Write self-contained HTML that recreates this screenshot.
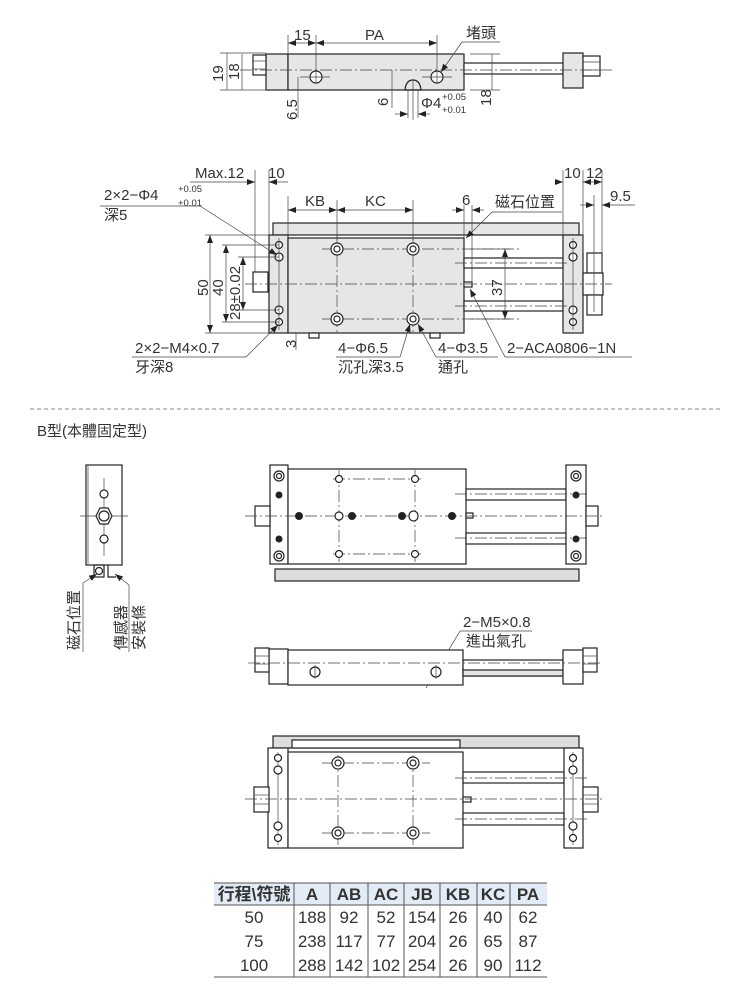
<!DOCTYPE html>
<html><head><meta charset="utf-8"><style>
html,body{margin:0;padding:0;background:#fff;}
svg{display:block;}
text{font-family:"Liberation Sans","Noto Sans CJK TC",sans-serif;fill:#333;font-size:15px;}
.l{stroke:#222;stroke-width:1.2;fill:none;}
.t{stroke:#444;stroke-width:0.7;fill:none;}
.c{stroke:#444;stroke-width:0.7;fill:none;stroke-dasharray:12 3 2 3;}
.w{stroke:#222;stroke-width:1.2;fill:#fff;}
.g{stroke:#222;stroke-width:1.2;fill:#e6e6e6;}
.d{fill:#222;}
</style></head><body>
<svg width="750" height="990" viewBox="0 0 750 990" xmlns="http://www.w3.org/2000/svg">
<defs>
<marker id="a" markerWidth="8" markerHeight="6" refX="8" refY="3" orient="auto-start-reverse" markerUnits="userSpaceOnUse"><path d="M0,0L8,3L0,6z" fill="#222"/></marker>
</defs>

<!-- ============ SECTION 1 ============ -->
<rect class="g" x="266" y="54" width="22" height="36"/>
<rect class="w" x="253" y="55" width="13" height="20"/>
<line class="t" x1="253" y1="61" x2="266" y2="61"/><line class="t" x1="253" y1="69" x2="266" y2="69"/>
<rect class="g" x="288" y="54" width="176" height="36"/>
<rect class="w" x="464" y="63" width="99" height="11"/>
<rect class="g" x="563" y="53" width="20" height="35"/>
<rect class="w" x="583" y="56" width="17" height="20"/>
<line class="t" x1="583" y1="62" x2="600" y2="62"/><line class="t" x1="583" y1="70" x2="600" y2="70"/>
<line class="c" x1="240" y1="70" x2="615" y2="70"/>
<circle class="w" cx="316" cy="77" r="6"/><line class="t" x1="316" y1="71" x2="316" y2="83"/>
<circle class="w" cx="437" cy="77" r="6"/><line class="t" x1="437" y1="71" x2="437" y2="83"/>
<line class="t" x1="300" y1="77" x2="330" y2="77"/><line class="t" x1="422" y1="77" x2="452" y2="77"/>
<path class="l" d="M405,90 Q406,80 413,80 Q420,80 421,90 Z" fill="#ccc"/>
<line class="t" x1="413" y1="80" x2="413" y2="120"/>
<!-- dims sec1 -->
<line class="t" x1="288" y1="35" x2="288" y2="54"/>
<line class="t" x1="316" y1="35" x2="316" y2="70"/>
<line class="t" x1="437" y1="35" x2="437" y2="70"/>
<line class="t" x1="288" y1="43" x2="316" y2="43" marker-start="url(#a)" marker-end="url(#a)"/>
<line class="t" x1="316" y1="43" x2="437" y2="43" marker-start="url(#a)" marker-end="url(#a)"/>
<text x="294" y="40">15</text><text x="365" y="40">PA</text>
<text x="466" y="38">堵頭</text>
<line class="t" x1="462" y1="42" x2="500" y2="42"/>
<line class="t" x1="462" y1="42" x2="441" y2="72" marker-end="url(#a)"/>
<line class="t" x1="220" y1="53" x2="266" y2="53"/><line class="t" x1="220" y1="90" x2="266" y2="90"/>
<line class="t" x1="227" y1="53" x2="227" y2="90"/><line class="t" x1="242" y1="54" x2="242" y2="90"/>
<text transform="translate(223,82) rotate(-90)">19</text>
<text transform="translate(239,80) rotate(-90)">18</text>
<line class="t" x1="298" y1="77" x2="298" y2="118"/>
<text transform="translate(297,120) rotate(-90)">6.5</text>
<line class="t" x1="392" y1="70" x2="392" y2="108"/>
<text transform="translate(388,106) rotate(-90)">6</text>
<line class="t" x1="395" y1="114" x2="408" y2="114" marker-end="url(#a)"/>
<line class="t" x1="418" y1="114" x2="430" y2="114" marker-start="url(#a)"/>
<line class="t" x1="408" y1="90" x2="408" y2="118"/><line class="t" x1="418" y1="90" x2="418" y2="118"/>
<text x="421" y="108">Φ4</text>
<text x="442" y="100" style="font-size:9.5px">+0.05</text>
<text x="442" y="113" style="font-size:9.5px">+0.01</text>
<line class="t" x1="470" y1="54" x2="500" y2="54"/><line class="t" x1="470" y1="90" x2="500" y2="90"/>
<line class="t" x1="492" y1="54" x2="492" y2="90"/>
<text transform="translate(491,106) rotate(-90)">18</text>

<!-- ============ SECTION 2 ============ -->
<rect class="g" x="273" y="223" width="306" height="12"/>
<rect class="g" x="269" y="235" width="19" height="98"/>
<rect class="g" x="288" y="238" width="176" height="95"/>
<rect class="w" x="464" y="258" width="99" height="10"/>
<rect class="w" x="464" y="301" width="99" height="10"/>
<rect class="g" x="563" y="235" width="20" height="98"/>
<rect class="w" x="253" y="272" width="15" height="20"/>
<rect class="w" x="587" y="253" width="15" height="20"/>
<rect class="w" x="583" y="273" width="20" height="22"/>
<rect class="w" x="587" y="295" width="15" height="20"/>
<rect class="w" x="309" y="333" width="10" height="5"/><rect class="w" x="430" y="333" width="10" height="5"/>
<rect class="w" x="464" y="282" width="8" height="5"/>
<line class="c" x1="245" y1="284" x2="612" y2="284"/>
<line class="c" x1="322" y1="249" x2="520" y2="249"/><line class="c" x1="322" y1="319" x2="520" y2="319"/>
<line class="c" x1="337" y1="235" x2="337" y2="333"/><line class="c" x1="413" y1="235" x2="413" y2="333"/>
<line class="c" x1="455" y1="263" x2="570" y2="263"/><line class="c" x1="455" y1="306" x2="570" y2="306"/>
<g class="w"><circle cx="337" cy="249" r="6"/><circle cx="413" cy="249" r="6"/><circle cx="337" cy="319" r="6"/><circle cx="413" cy="319" r="6"/></g>
<g class="l"><circle cx="337" cy="249" r="3"/><circle cx="413" cy="249" r="3"/><circle cx="337" cy="319" r="3"/><circle cx="413" cy="319" r="3"/></g>
<g class="w"><circle cx="279" cy="245" r="3.5"/><circle cx="279" cy="257" r="4"/><circle cx="279" cy="310" r="4"/><circle cx="279" cy="322" r="3.5"/>
<circle cx="573" cy="245" r="3.5"/><circle cx="573" cy="257" r="4"/><circle cx="573" cy="310" r="4"/><circle cx="573" cy="322" r="3.5"/></g>
<line class="t" x1="279" y1="238" x2="279" y2="330"/><line class="t" x1="573" y1="238" x2="573" y2="330"/>
<!-- dims sec2 -->
<line class="t" x1="255" y1="170" x2="255" y2="272"/><line class="t" x1="269" y1="170" x2="269" y2="235"/>
<line class="t" x1="288" y1="196" x2="288" y2="238"/>
<line class="t" x1="190" y1="182" x2="255" y2="182" marker-end="url(#a)"/>
<line class="t" x1="269" y1="182" x2="288" y2="182" marker-start="url(#a)"/>
<text x="195" y="178">Max.12</text><text x="268" y="178">10</text>
<text x="104" y="200">2×2−Φ4</text>
<text x="178" y="192" style="font-size:9.5px">+0.05</text>
<text x="178" y="206" style="font-size:9.5px">+0.01</text>
<text x="104" y="220">深5</text>
<line class="t" x1="100" y1="206" x2="200" y2="206"/>
<line class="t" x1="200" y1="206" x2="277" y2="255" marker-end="url(#a)"/>
<line class="t" x1="337" y1="200" x2="337" y2="240"/><line class="t" x1="413" y1="200" x2="413" y2="240"/>
<line class="t" x1="288" y1="210" x2="337" y2="210" marker-start="url(#a)" marker-end="url(#a)"/>
<line class="t" x1="337" y1="210" x2="413" y2="210" marker-start="url(#a)" marker-end="url(#a)"/>
<text x="305" y="206">KB</text><text x="365" y="206">KC</text>
<line class="t" x1="464" y1="205" x2="464" y2="238"/><line class="t" x1="472" y1="205" x2="472" y2="285"/>
<line class="t" x1="452" y1="210" x2="464" y2="210" marker-end="url(#a)"/>
<line class="t" x1="472" y1="210" x2="484" y2="210" marker-start="url(#a)"/>
<text x="462" y="205">6</text>
<text x="495" y="207">磁石位置</text>
<line class="t" x1="492" y1="212" x2="562" y2="212"/>
<line class="t" x1="492" y1="212" x2="466" y2="238" marker-end="url(#a)"/>
<line class="t" x1="563" y1="170" x2="563" y2="235"/><line class="t" x1="583" y1="170" x2="583" y2="253"/><line class="t" x1="602" y1="170" x2="602" y2="273"/>
<line class="t" x1="555" y1="182" x2="563" y2="182" marker-end="url(#a)"/>
<line class="t" x1="583" y1="182" x2="602" y2="182" marker-start="url(#a)" marker-end="url(#a)"/>
<text x="564" y="178">10</text><text x="586" y="178">12</text>
<line class="t" x1="594" y1="195" x2="594" y2="312"/>
<line class="t" x1="580" y1="205" x2="594" y2="205" marker-end="url(#a)"/>
<line class="t" x1="602" y1="205" x2="635" y2="205" marker-start="url(#a)"/>
<text x="610" y="201">9.5</text>
<line class="t" x1="205" y1="235" x2="269" y2="235"/><line class="t" x1="205" y1="333" x2="269" y2="333"/>
<line class="t" x1="210" y1="235" x2="210" y2="333" marker-start="url(#a)" marker-end="url(#a)"/>
<line class="t" x1="222" y1="245" x2="279" y2="245"/><line class="t" x1="222" y1="322" x2="279" y2="322"/>
<line class="t" x1="226" y1="245" x2="226" y2="322" marker-start="url(#a)" marker-end="url(#a)"/>
<line class="t" x1="238" y1="257" x2="279" y2="257"/><line class="t" x1="238" y1="310" x2="279" y2="310"/>
<line class="t" x1="243" y1="257" x2="243" y2="310" marker-start="url(#a)" marker-end="url(#a)"/>
<text transform="translate(208,296) rotate(-90)">50</text>
<text transform="translate(223,296) rotate(-90)">40</text>
<text transform="translate(240,320) rotate(-90)">28±0.02</text>
<line class="t" x1="470" y1="249" x2="510" y2="249"/><line class="t" x1="470" y1="319" x2="510" y2="319"/>
<line class="t" x1="505" y1="249" x2="505" y2="319" marker-start="url(#a)" marker-end="url(#a)"/>
<text transform="translate(502,296) rotate(-90)">37</text>
<line class="t" x1="296" y1="333" x2="296" y2="350"/>
<text transform="translate(296,348) rotate(-90)">3</text>
<text x="135" y="353">2×2−M4×0.7</text><text x="135" y="372">牙深8</text>
<line class="t" x1="132" y1="357" x2="246" y2="357"/>
<line class="t" x1="246" y1="357" x2="278" y2="325" marker-end="url(#a)"/>
<text x="338" y="353">4−Φ6.5</text><text x="338" y="372">沉孔深3.5</text>
<line class="t" x1="336" y1="357" x2="400" y2="357"/>
<line class="t" x1="400" y1="357" x2="410" y2="324" marker-end="url(#a)"/>
<text x="438" y="353">4−Φ3.5</text><text x="438" y="372">通孔</text>
<line class="t" x1="436" y1="357" x2="498" y2="357"/>
<line class="t" x1="436" y1="357" x2="418" y2="324" marker-end="url(#a)"/>
<text x="507" y="353">2−ACA0806−1N</text>
<line class="t" x1="505" y1="357" x2="632" y2="357"/>
<line class="t" x1="505" y1="357" x2="470" y2="289" marker-end="url(#a)"/>

<!-- divider -->
<line x1="30" y1="409" x2="722" y2="409" stroke="#888" stroke-width="1" stroke-dasharray="4 3"/>
<text x="37" y="436" style="font-size:15px">B型(本體固定型)</text>

<!-- ============ SECTION 3 ============ -->
<rect class="w" x="86" y="465" width="36" height="100"/>
<line class="t" x1="88" y1="466" x2="88" y2="564"/>
<line class="t" x1="80" y1="516" x2="128" y2="516"/>
<line class="t" x1="104" y1="478" x2="104" y2="556"/>
<circle class="w" cx="104" cy="494" r="4"/><circle class="w" cx="104" cy="539" r="4"/>
<polygon class="w" points="96,516 100,508 108,508 112,516 108,524 100,524"/>
<circle class="l" cx="104" cy="516" r="5"/>
<rect class="l" x="94" y="565" width="10" height="12"/><circle class="l" cx="99" cy="571" r="3.5"/>
<path class="l" d="M108,565 V577 H116"/>
<line class="t" x1="83" y1="583" x2="97" y2="574" marker-end="url(#a)"/>
<line class="t" x1="83" y1="583" x2="83" y2="652"/>
<line class="t" x1="129" y1="585" x2="115" y2="574" marker-end="url(#a)"/>
<line class="t" x1="129" y1="585" x2="129" y2="652"/>
<text transform="translate(79,650) rotate(-90)" style="font-size:15px">磁石位置</text>
<text transform="translate(126,650) rotate(-90)" style="font-size:15px">傳感器</text>
<text transform="translate(144,650) rotate(-90)" style="font-size:15px">安裝條</text>

<rect class="g" x="275" y="569" width="304" height="12" style="fill:#ddd"/>
<rect class="w" x="270" y="465" width="18" height="99"/>
<rect class="w" x="288" y="469" width="178" height="95"/>
<rect class="w" x="466" y="489" width="100" height="11"/>
<rect class="w" x="466" y="533" width="100" height="11"/>
<rect class="w" x="566" y="465" width="20" height="99"/>
<rect class="w" x="255" y="506" width="15" height="20"/>
<rect class="w" x="586" y="506" width="12" height="20"/>
<rect class="w" x="466" y="513" width="7" height="5"/>
<line class="c" x1="245" y1="516" x2="605" y2="516"/>
<line class="c" x1="455" y1="494" x2="590" y2="494"/><line class="c" x1="455" y1="538" x2="590" y2="538"/>
<line class="c" x1="339" y1="470" x2="339" y2="562"/><line class="c" x1="415" y1="470" x2="415" y2="562"/>
<line class="c" x1="333" y1="479" x2="421" y2="479"/><line class="c" x1="333" y1="554" x2="421" y2="554"/>
<g class="w"><circle cx="339" cy="479" r="3.5"/><circle cx="415" cy="479" r="3.5"/><circle cx="339" cy="554" r="3.5"/><circle cx="415" cy="554" r="3.5"/><circle cx="339" cy="516" r="4"/>
<rect x="409" y="511" width="9" height="10" rx="4.5"/></g>
<g class="d"><circle cx="299" cy="516" r="4"/><circle cx="352" cy="516" r="4"/><circle cx="402" cy="516" r="4"/><circle cx="452" cy="516" r="4"/>
<circle cx="279" cy="495" r="3.5"/><circle cx="279" cy="539" r="3.5"/><circle cx="576" cy="495" r="3.5"/><circle cx="576" cy="539" r="3.5"/></g>
<g class="w"><circle cx="279" cy="476" r="5"/><circle cx="279" cy="556" r="5"/><circle cx="576" cy="476" r="5"/><circle cx="576" cy="556" r="5"/></g>
<g class="l"><circle cx="279" cy="476" r="2.5"/><circle cx="279" cy="556" r="2.5"/><circle cx="576" cy="476" r="2.5"/><circle cx="576" cy="556" r="2.5"/></g>

<!-- ============ SECTION 4 ============ -->
<text x="463" y="627">2−M5×0.8</text>
<text x="466" y="646">進出氣孔</text>
<line class="t" x1="460" y1="631" x2="532" y2="631"/>
<line class="t" x1="460" y1="631" x2="438" y2="668" marker-end="url(#a)"/>
<line class="t" x1="432" y1="678" x2="426" y2="688"/>
<rect class="w" x="269" y="649" width="19" height="35"/>
<rect class="w" x="255" y="648" width="14" height="24"/>
<line class="t" x1="255" y1="656" x2="269" y2="656"/><line class="t" x1="255" y1="664" x2="269" y2="664"/>
<rect class="w" x="288" y="650" width="175" height="35"/>
<rect class="w" x="463" y="660" width="100" height="16"/>
<rect class="g" x="463" y="670" width="100" height="6"/>
<rect class="w" x="563" y="650" width="20" height="34"/>
<rect class="w" x="583" y="648" width="14" height="24"/>
<line class="t" x1="583" y1="656" x2="597" y2="656"/><line class="t" x1="583" y1="664" x2="597" y2="664"/>
<line class="c" x1="248" y1="663" x2="600" y2="663"/>
<circle class="w" cx="315" cy="672" r="5"/><circle class="w" cx="436" cy="672" r="5"/>
<line class="t" x1="315" y1="665" x2="315" y2="679"/><line class="t" x1="436" y1="665" x2="436" y2="679"/>

<!-- ============ SECTION 5 ============ -->
<rect class="g" x="273" y="736" width="306" height="12" style="fill:#ddd"/>
<rect class="w" x="292" y="740" width="168" height="8"/>
<rect class="w" x="268" y="748" width="20" height="100"/>
<rect class="w" x="288" y="752" width="175" height="96"/>
<rect class="w" x="463" y="772" width="101" height="11"/>
<rect class="w" x="463" y="813" width="101" height="12"/>
<rect class="w" x="564" y="748" width="19" height="100"/>
<rect class="w" x="254" y="787" width="15" height="25"/>
<rect class="w" x="583" y="787" width="15" height="25"/>
<line class="t" x1="254" y1="795" x2="269" y2="795"/><line class="t" x1="254" y1="804" x2="269" y2="804"/>
<line class="t" x1="583" y1="795" x2="598" y2="795"/><line class="t" x1="583" y1="804" x2="598" y2="804"/>
<rect class="w" x="463" y="797" width="8" height="5"/>
<line class="c" x1="245" y1="799" x2="605" y2="799"/>
<line class="c" x1="455" y1="778" x2="590" y2="778"/><line class="c" x1="455" y1="819" x2="590" y2="819"/>
<line class="c" x1="338" y1="755" x2="338" y2="845"/><line class="c" x1="413" y1="755" x2="413" y2="845"/>
<line class="c" x1="322" y1="763" x2="430" y2="763"/><line class="c" x1="322" y1="833" x2="430" y2="833"/>
<g class="w"><circle cx="338" cy="763" r="6"/><circle cx="413" cy="763" r="6"/><circle cx="338" cy="833" r="6"/><circle cx="413" cy="833" r="6"/></g>
<g class="l"><circle cx="338" cy="763" r="3"/><circle cx="413" cy="763" r="3"/><circle cx="338" cy="833" r="3"/><circle cx="413" cy="833" r="3"/></g>
<line class="t" x1="278" y1="752" x2="278" y2="845"/><line class="t" x1="573" y1="752" x2="573" y2="845"/>
<g class="w"><circle cx="278" cy="758" r="3.5"/><circle cx="278" cy="770" r="4"/><circle cx="278" cy="826" r="4"/><circle cx="278" cy="838" r="3.5"/>
<circle cx="573" cy="758" r="3.5"/><circle cx="573" cy="770" r="4"/><circle cx="573" cy="826" r="4"/><circle cx="573" cy="838" r="3.5"/></g>

<!-- ============ TABLE ============ -->
<rect x="214" y="883" width="333" height="22" fill="#e3ecf6"/>
<g stroke="#555" stroke-width="1">
<line x1="214" y1="883" x2="547" y2="883"/>
<line x1="214" y1="905" x2="547" y2="905"/>
<line x1="214" y1="977" x2="547" y2="977"/>
<line x1="294" y1="883" x2="294" y2="977"/><line x1="330" y1="883" x2="330" y2="977"/>
<line x1="368" y1="883" x2="368" y2="977"/><line x1="404" y1="883" x2="404" y2="977"/>
<line x1="440" y1="883" x2="440" y2="977"/><line x1="477" y1="883" x2="477" y2="977"/>
<line x1="510" y1="883" x2="510" y2="977"/>
</g>
<g text-anchor="middle">
<text x="254" y="900" style="font-weight:bold;font-size:17px">行程\符號</text>
<text x="312" y="900" style="font-weight:bold;font-size:17px">A</text><text x="349" y="900" style="font-weight:bold;font-size:17px">AB</text>
<text x="386" y="900" style="font-weight:bold;font-size:17px">AC</text><text x="422" y="900" style="font-weight:bold;font-size:17px">JB</text>
<text x="458" y="900" style="font-weight:bold;font-size:17px">KB</text><text x="493" y="900" style="font-weight:bold;font-size:17px">KC</text>
<text x="528" y="900" style="font-weight:bold;font-size:17px">PA</text>
</g>
<g text-anchor="middle">
<g style="font-size:17px">
<text x="254" y="923" style="font-size:17px">50</text><text x="312" y="923" style="font-size:17px">188</text><text x="349" y="923" style="font-size:17px">92</text><text x="386" y="923" style="font-size:17px">52</text><text x="422" y="923" style="font-size:17px">154</text><text x="458" y="923" style="font-size:17px">26</text><text x="493" y="923" style="font-size:17px">40</text><text x="528" y="923" style="font-size:17px">62</text>
<text x="254" y="947" style="font-size:17px">75</text><text x="312" y="947" style="font-size:17px">238</text><text x="349" y="947" style="font-size:17px">117</text><text x="386" y="947" style="font-size:17px">77</text><text x="422" y="947" style="font-size:17px">204</text><text x="458" y="947" style="font-size:17px">26</text><text x="493" y="947" style="font-size:17px">65</text><text x="528" y="947" style="font-size:17px">87</text>
<text x="254" y="971" style="font-size:17px">100</text><text x="312" y="971" style="font-size:17px">288</text><text x="349" y="971" style="font-size:17px">142</text><text x="386" y="971" style="font-size:17px">102</text><text x="422" y="971" style="font-size:17px">254</text><text x="458" y="971" style="font-size:17px">26</text><text x="493" y="971" style="font-size:17px">90</text><text x="528" y="971" style="font-size:17px">112</text>
</g>
</g>
</svg>
</body></html>
